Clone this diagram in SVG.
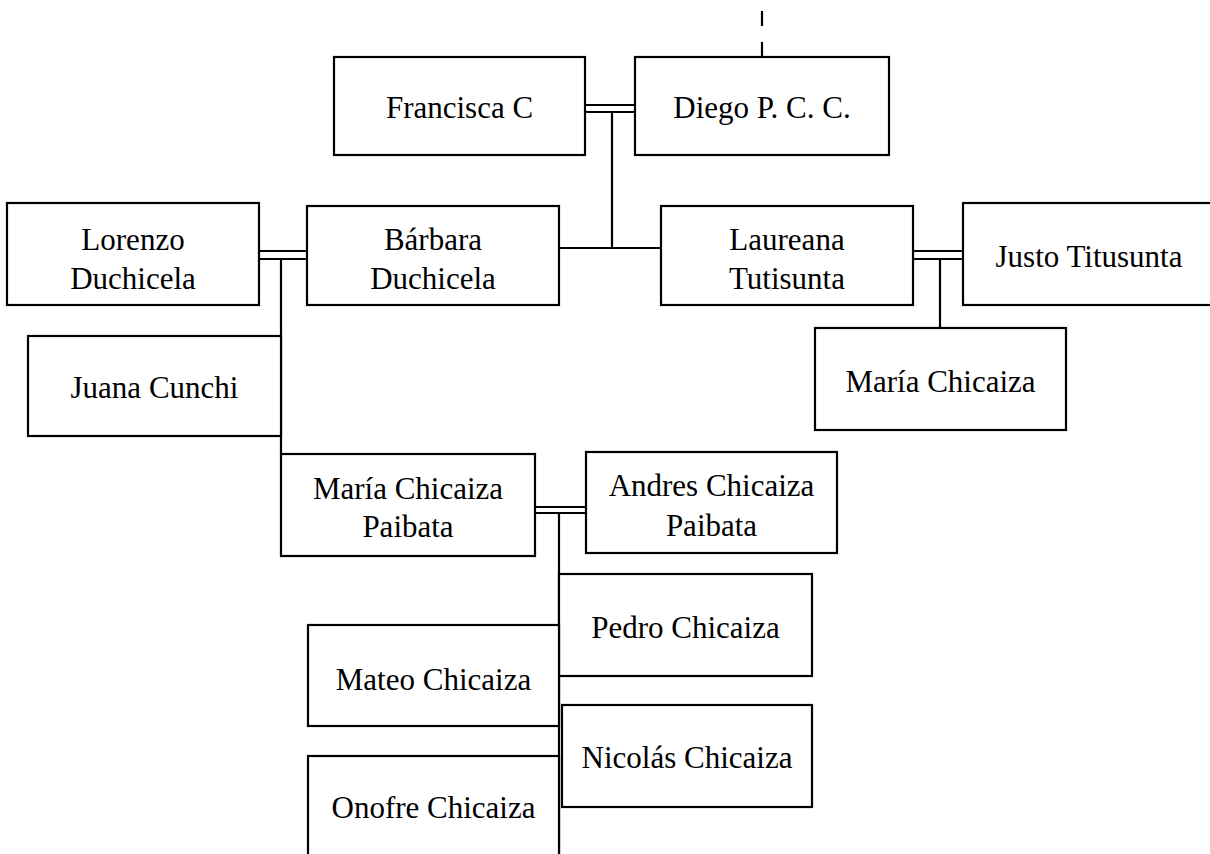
<svg xmlns="http://www.w3.org/2000/svg" width="1210" height="854" viewBox="0 0 1210 854">
<style>
.box{fill:#fff;stroke:#000;stroke-width:2.2}
.ln{fill:none;stroke:#000;stroke-width:2.2}
.dash{fill:none;stroke:#000;stroke-width:2.2;stroke-dasharray:15 16}
text{font-family:"Liberation Serif","Times New Roman",serif;font-size:31px;fill:#000;text-anchor:middle}
</style>
<rect width="1210" height="854" fill="#fff"/>
<g id="connectors">
<path class="dash" d="M762 57 V10"/>
<path class="ln" d="M585 105 H635 M585 112 H635 M612 112 V248 M559 248 H661"/>
<path class="ln" d="M259 251 H307 M259 259 H307 M281 259 V454"/>
<path class="ln" d="M913 251 H963 M913 259 H963 M940 259 V328"/>
<path class="ln" d="M535 507 H586 M535 513 H586 M559 513 V854"/>
</g>
<g id="francisca"><rect class="box" x="334" y="57" width="251" height="98"/><text x="459.5" y="118">Francisca C</text></g>
<g id="diego"><rect class="box" x="635" y="57" width="254" height="98"/><text x="762" y="118">Diego P. C. C.</text></g>
<g id="lorenzo"><rect class="box" x="7" y="203" width="252" height="102"/><text x="133" y="250">Lorenzo</text><text x="133" y="289">Duchicela</text></g>
<g id="barbara"><rect class="box" x="307" y="206" width="252" height="99"/><text x="433" y="250">Bárbara</text><text x="433" y="289">Duchicela</text></g>
<g id="laureana"><rect class="box" x="661" y="206" width="252" height="99"/><text x="787" y="250">Laureana</text><text x="787" y="289">Tutisunta</text></g>
<g id="justo"><rect class="box" x="963" y="203" width="252" height="102"/><text x="1089" y="267">Justo Titusunta</text></g>
<g id="maria-chicaiza"><rect class="box" x="815" y="328" width="251" height="102"/><text x="940.5" y="392">María Chicaiza</text></g>
<g id="juana"><rect class="box" x="28" y="336" width="253" height="100"/><text x="154.5" y="398">Juana Cunchi</text></g>
<g id="maria-paibata"><rect class="box" x="281" y="454" width="254" height="102"/><text x="408" y="499">María Chicaiza</text><text x="408" y="537">Paibata</text></g>
<g id="andres"><rect class="box" x="586" y="452" width="251" height="101"/><text x="711.5" y="496">Andres Chicaiza</text><text x="711.5" y="536">Paibata</text></g>
<g id="pedro"><rect class="box" x="559" y="574" width="253" height="102"/><text x="685.5" y="638">Pedro Chicaiza</text></g>
<g id="mateo"><rect class="box" x="308" y="625" width="251" height="101"/><text x="433.5" y="690">Mateo Chicaiza</text></g>
<g id="nicolas"><rect class="box" x="562" y="705" width="250" height="102"/><text x="687" y="768">Nicolás Chicaiza</text></g>
<g id="onofre"><rect class="box" x="308" y="756" width="251" height="110"/><text x="433.5" y="818">Onofre Chicaiza</text></g>
</svg>
